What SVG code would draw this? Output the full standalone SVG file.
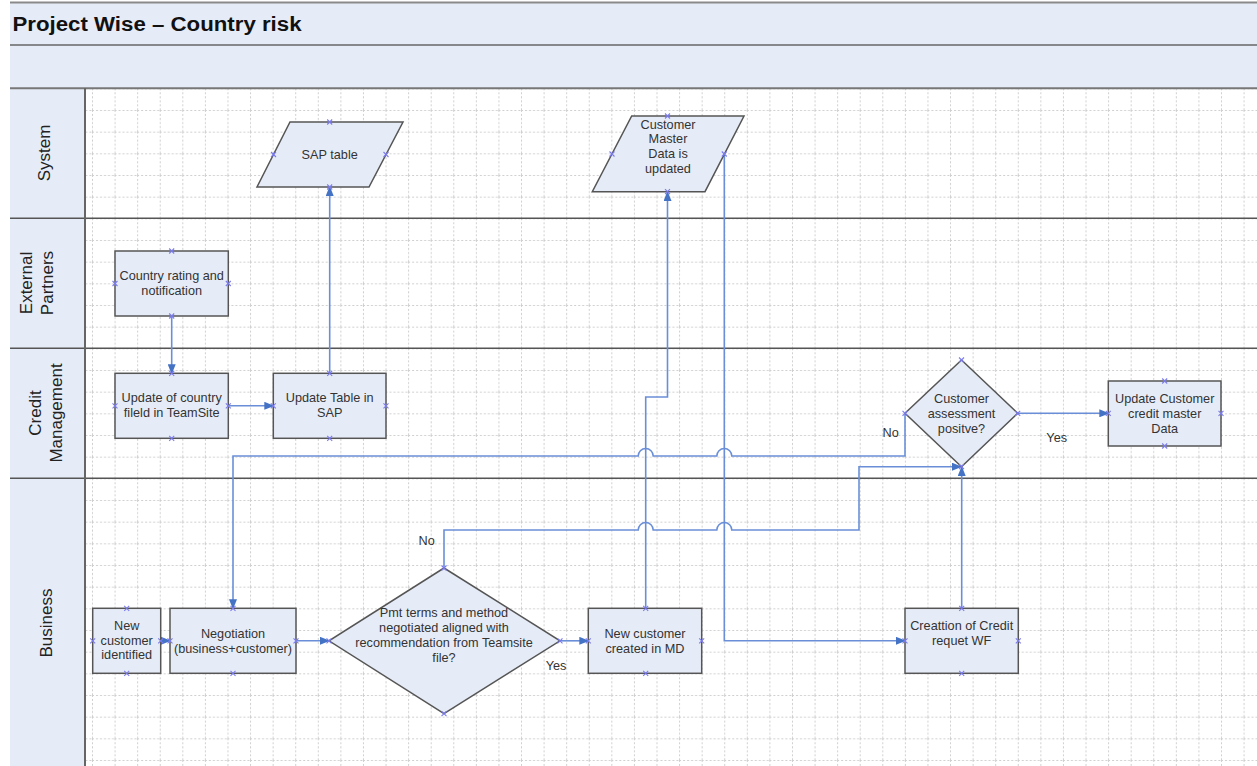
<svg xmlns="http://www.w3.org/2000/svg" xmlns:xlink="http://www.w3.org/1999/xlink" width="1257" height="766" viewBox="0 0 1257 766">
<style>
.band{fill:#e6ecf7}
.node{fill:#e6ecf7;stroke:#555;stroke-width:1.5}
.t{font-family:"Liberation Sans",Arial,sans-serif;font-size:12.7px;fill:#333;text-anchor:middle}
.lane{font-family:"Liberation Sans",Arial,sans-serif;font-size:17px;fill:#222;text-anchor:middle}
.title{font-family:"Liberation Sans",Arial,sans-serif;font-size:19.5px;font-weight:bold;fill:#111}
.conn{fill:none;stroke:#6a8fd8;stroke-width:1.6}
.cp{stroke:#7b7bf0;stroke-width:1.1;fill:none}
.sep{stroke:#555;stroke-width:1.5}
</style>
<defs>
<pattern id="grid" patternUnits="userSpaceOnUse" x="92" y="88.33" width="22.58" height="21.667">
<path d="M0.5,0 V21.667 M0,0.5 H22.58" fill="none" stroke="#cfcfcf" stroke-width="1" stroke-dasharray="2 2"/>
</pattern>
<marker id="arr" markerUnits="userSpaceOnUse" markerWidth="10" markerHeight="8" refX="9" refY="4" orient="auto">
<path d="M0,0 L10,4 L0,8 z" fill="#4472c4"/>
</marker>
<path id="x" d="M-2.5,-2.5 L2.5,2.5 M-2.5,2.5 L2.5,-2.5"/>
</defs>

<g id="background">
<rect x="0" y="0" width="1257" height="766" fill="#ffffff"/>
<rect class="band" x="10" y="2" width="1247" height="86"/>
<rect class="band" x="10" y="88" width="75" height="678"/>
<rect x="86" y="89" width="1171" height="677" fill="url(#grid)"/>
<line x1="10" y1="2.5" x2="1257" y2="2.5" stroke="#8a8a8a" stroke-width="2"/>
<line x1="10" y1="45" x2="1257" y2="45" stroke="#666" stroke-width="1.5"/>
<line x1="10" y1="88.3" x2="1257" y2="88.3" stroke="#777" stroke-width="2"/>
<line class="sep" x1="10" y1="218.3" x2="1257" y2="218.3"/>
<line class="sep" x1="10" y1="348.3" x2="1257" y2="348.3"/>
<line class="sep" x1="10" y1="478.3" x2="1257" y2="478.3"/>
<line x1="85" y1="88" x2="85" y2="766" stroke="#666" stroke-width="2"/>
<text class="title" x="12.5" y="30.5" textLength="289" lengthAdjust="spacingAndGlyphs">Project Wise – Country risk</text>
</g>

<g id="lanes">
<text class="lane" transform="translate(50,153) rotate(-90)">System</text>
<text class="lane" transform="translate(32,283) rotate(-90)">External</text>
<text class="lane" transform="translate(53,283) rotate(-90)">Partners</text>
<text class="lane" transform="translate(41,413) rotate(-90)">Credit</text>
<text class="lane" transform="translate(62,413) rotate(-90)">Management</text>
<text class="lane" transform="translate(52,623) rotate(-90)">Business</text>
</g>

<g id="connectors">
<path class="conn" marker-end="url(#arr)" d="M171.7,316 V373.3"/>
<path class="conn" marker-end="url(#arr)" d="M228.3,405.8 H273.3"/>
<path class="conn" marker-end="url(#arr)" d="M329.7,373.3 V187"/>
<path class="conn" marker-end="url(#arr)" d="M160.7,640.8 H170"/>
<path class="conn" marker-end="url(#arr)" d="M296,640.8 H329"/>
<path class="conn" marker-end="url(#arr)" d="M560,640.8 H588.3"/>
<path class="conn" marker-end="url(#arr)" d="M645.7,608.3 V397 H667.5 V192"/>
<path class="conn" marker-end="url(#arr)" d="M724.3,154 V640.8 H905"/>
<path class="conn" marker-end="url(#arr)" d="M961.7,608.3 V467"/>
<path class="conn" marker-end="url(#arr)" d="M444,568 V530 H638.2 a7.5,7.5 0 0 1 15,0 H716.8 a7.5,7.5 0 0 1 15,0 H859 V466.7 H961"/>
<path class="conn" marker-end="url(#arr)" d="M905,413.3 V456 H731.8 a7.5,7.5 0 0 0 -15,0 H653.2 a7.5,7.5 0 0 0 -15,0 H233 V608.3"/>
<path class="conn" marker-end="url(#arr)" d="M1017.7,413.3 H1108.3"/>
<text class="t" x="426.7" y="545">No</text>
<text class="t" x="890.7" y="437">No</text>
<text class="t" x="1056.7" y="441.5">Yes</text>
<text class="t" x="556" y="669.5">Yes</text>
</g>

<g id="sap-table">
<polygon class="node" points="290,122 403,122 369,187 257,187"/>
<text class="t" x="329.7" y="158.5">SAP table</text>
<g class="cp"><use xlink:href="#x" x="329.7" y="122"/><use xlink:href="#x" x="329.7" y="187"/><use xlink:href="#x" x="273.5" y="154.5"/><use xlink:href="#x" x="386" y="154.5"/></g>
</g>

<g id="customer-master">
<polygon class="node" points="631.7,116 744,116 705,191.7 592.3,191.7"/>
<text class="t" x="668" y="128.5">Customer</text>
<text class="t" x="668" y="143">Master</text>
<text class="t" x="668" y="158">Data is</text>
<text class="t" x="668" y="172.5">updated</text>
<g class="cp"><use xlink:href="#x" x="667.5" y="116"/><use xlink:href="#x" x="667.5" y="191.7"/><use xlink:href="#x" x="612" y="154"/><use xlink:href="#x" x="724.3" y="154"/></g>
</g>

<g id="country-rating">
<rect class="node" x="115" y="251" width="113.3" height="65"/>
<text class="t" x="171.7" y="280">Country rating and</text>
<text class="t" x="171.7" y="295">notification</text>
<g class="cp"><use xlink:href="#x" x="171.7" y="251"/><use xlink:href="#x" x="171.7" y="316"/><use xlink:href="#x" x="115" y="283.5"/><use xlink:href="#x" x="228.3" y="283.5"/></g>
</g>

<g id="update-country">
<rect class="node" x="115" y="373.3" width="113.3" height="65"/>
<text class="t" x="171.7" y="402">Update of country</text>
<text class="t" x="171.7" y="417">fileld in TeamSite</text>
<g class="cp"><use xlink:href="#x" x="171.7" y="373.3"/><use xlink:href="#x" x="171.7" y="438.3"/><use xlink:href="#x" x="115" y="405.8"/><use xlink:href="#x" x="228.3" y="405.8"/></g>
</g>

<g id="update-table">
<rect class="node" x="273.3" y="373.3" width="112.7" height="65"/>
<text class="t" x="329.7" y="402">Update Table in</text>
<text class="t" x="329.7" y="417">SAP</text>
<g class="cp"><use xlink:href="#x" x="329.7" y="373.3"/><use xlink:href="#x" x="329.7" y="438.3"/><use xlink:href="#x" x="273.3" y="405.8"/><use xlink:href="#x" x="386" y="405.8"/></g>
</g>

<g id="customer-assessment">
<polygon class="node" points="961.5,360 1017.7,413.3 961.5,466.7 905,413.3"/>
<text class="t" x="961.5" y="402.5">Customer</text>
<text class="t" x="961.5" y="417.5">assessment</text>
<text class="t" x="961.5" y="432.5">positve?</text>
<g class="cp"><use xlink:href="#x" x="961.5" y="360"/><use xlink:href="#x" x="961.5" y="466.7"/><use xlink:href="#x" x="905" y="413.3"/><use xlink:href="#x" x="1017.7" y="413.3"/></g>
</g>

<g id="update-customer">
<rect class="node" x="1108.3" y="381" width="112.7" height="65"/>
<text class="t" x="1164.7" y="402.5">Update Customer</text>
<text class="t" x="1164.7" y="417.5">credit master</text>
<text class="t" x="1164.7" y="432.5">Data</text>
<g class="cp"><use xlink:href="#x" x="1164.7" y="381"/><use xlink:href="#x" x="1164.7" y="446"/><use xlink:href="#x" x="1108.3" y="413.3"/><use xlink:href="#x" x="1221" y="413.3"/></g>
</g>

<g id="new-customer-identified">
<rect class="node" x="92.7" y="608.3" width="68" height="65"/>
<text class="t" x="126.7" y="629.5">New</text>
<text class="t" x="126.7" y="644.5">customer</text>
<text class="t" x="126.7" y="659">identified</text>
<g class="cp"><use xlink:href="#x" x="126.7" y="608.3"/><use xlink:href="#x" x="126.7" y="673.3"/><use xlink:href="#x" x="92.7" y="640.8"/><use xlink:href="#x" x="160.7" y="640.8"/></g>
</g>

<g id="negotiation">
<rect class="node" x="170" y="608.3" width="126" height="65"/>
<text class="t" x="233" y="637.5">Negotiation</text>
<text class="t" x="233" y="652.5">(business+customer)</text>
<g class="cp"><use xlink:href="#x" x="233" y="608.3"/><use xlink:href="#x" x="233" y="673.3"/><use xlink:href="#x" x="170" y="640.8"/><use xlink:href="#x" x="296" y="640.8"/></g>
</g>

<g id="pmt-terms">
<polygon class="node" points="444,568 560,640.8 444,713.6 329,640.8"/>
<text class="t" x="444" y="616.5">Pmt terms and method</text>
<text class="t" x="444" y="631.5">negotiated aligned with</text>
<text class="t" x="444" y="646.5">recommendation from Teamsite</text>
<text class="t" x="444" y="661.5">file?</text>
<g class="cp"><use xlink:href="#x" x="444" y="568"/><use xlink:href="#x" x="444" y="713.6"/><use xlink:href="#x" x="329" y="640.8"/><use xlink:href="#x" x="560" y="640.8"/></g>
</g>

<g id="new-customer-md">
<rect class="node" x="588.3" y="608.3" width="113.4" height="65"/>
<text class="t" x="645" y="637.5">New customer</text>
<text class="t" x="645" y="652.5">created in MD</text>
<g class="cp"><use xlink:href="#x" x="645.7" y="608.3"/><use xlink:href="#x" x="645.7" y="673.3"/><use xlink:href="#x" x="588.3" y="640.8"/><use xlink:href="#x" x="701.7" y="640.8"/></g>
</g>

<g id="credit-request">
<rect class="node" x="905" y="608.3" width="113.3" height="65"/>
<text class="t" x="961.7" y="629.5">Creattion of Credit</text>
<text class="t" x="961.7" y="644.5">requet WF</text>
<g class="cp"><use xlink:href="#x" x="961.7" y="608.3"/><use xlink:href="#x" x="961.7" y="673.3"/><use xlink:href="#x" x="905" y="640.8"/><use xlink:href="#x" x="1018.3" y="640.8"/></g>
</g>
</svg>
